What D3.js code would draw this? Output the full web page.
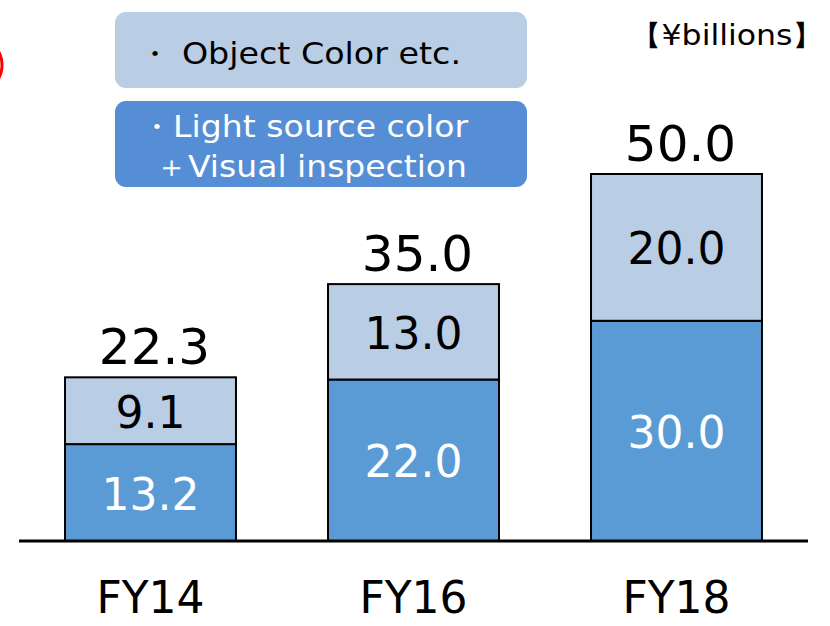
<!DOCTYPE html>
<meta charset="utf-8">
<head>
    <title>Stacked bars</title>
    <script src="https://d3js.org/d3.v7.min.js"></script>
    <style>
        body { margin: 0; background: #fff; }
        text { font-family: "DejaVu Sans", Verdana, sans-serif; }
    </style>
</head>
<body>
<script>
    // data
    var years = ["FY14", "FY16", "FY18"];
    var lightSource = [13.2, 22.0, 30.0];   // light source color + visual inspection
    var objectColor = [9.1, 13.0, 20.0];    // object color etc.
    var totals = [22.3, 35.0, 50.0];
    var legendLabels = ["\u30FB Object Color etc.", "\u30FBLight source color", "\uFF0BVisual inspection"];
    var unitLabel = "\u3010\u00A5billions\u3011";

    var width = 830, height = 626;
    var lightCol = "#b9cde5", darkCol = "#5b9bd5", legendDark = "#558ed5";

    var svg = d3.select("body").append("svg")
        .attr("width", width)
        .attr("height", height);

    var x = d3.scaleBand()
        .domain(years)
        .range([19, 808])
        .paddingInner(0.35)
        .paddingOuter(0.175);

    var y = d3.scaleLinear()
        .domain([0, 50])
        .range([541, 174]);

    // stack the two series
    var rows = years.map(function (d, i) {
        return { year: d, light: lightSource[i], obj: objectColor[i], total: totals[i] };
    });
    var series = d3.stack().keys(["light", "obj"])(rows);

    var groups = svg.append("g").selectAll("g")
        .data(series)
        .enter().append("g")
        .attr("fill", function (d) { return d.key == "light" ? darkCol : lightCol; });

    groups.selectAll("rect")
        .data(function (d) { return d; })
        .enter().append("rect")
        .attr("x", function (d) { return x(d.data.year); })
        .attr("y", function (d) { return y(d[1]); })
        .attr("width", x.bandwidth())
        .attr("height", function (d) { return y(d[0]) - y(d[1]); })
        .attr("stroke", "#000")
        .attr("stroke-width", 2);

    // segment labels
    groups.selectAll("text")
        .data(function (d) { return d.map(function (v) { v.key = d.key; return v; }); })
        .enter().append("text")
        .attr("x", function (d) { return x(d.data.year) + x.bandwidth() / 2; })
        .attr("y", function (d) { return (y(d[0]) + y(d[1])) / 2 + 17; })
        .attr("text-anchor", "middle")
        .style("font-size", "44px")
        .attr("fill", function (d) { return d.key == "light" ? "#fff" : "#000"; })
        .text(function (d) { return d3.format(".1f")(d[1] - d[0]); });

    // totals
    svg.append("g").selectAll("text")
        .data(rows)
        .enter().append("text")
        .attr("x", function (d) { return x(d.year) + x.bandwidth() / 2 + 4; })
        .attr("y", function (d) { return y(d.total) - 13; })
        .attr("text-anchor", "middle")
        .style("font-size", "50px")
        .text(function (d) { return d3.format(".1f")(d.total); });

    // baseline
    svg.append("line")
        .attr("x1", 19).attr("x2", 808)
        .attr("y1", y(0)).attr("y2", y(0))
        .attr("stroke", "#000")
        .attr("stroke-width", 3);

    // category labels
    svg.append("g").selectAll("text")
        .data(years)
        .enter().append("text")
        .attr("x", function (d) { return x(d) + x.bandwidth() / 2; })
        .attr("y", 613)
        .attr("text-anchor", "middle")
        .style("font-size", "44px")
        .text(function (d) { return d; });

    // legend boxes
    svg.append("rect")
        .attr("x", 115).attr("y", 12).attr("width", 412).attr("height", 76)
        .attr("rx", 11).attr("fill", lightCol);
    svg.append("rect")
        .attr("x", 115).attr("y", 101).attr("width", 412).attr("height", 86)
        .attr("rx", 11).attr("fill", legendDark);

    svg.append("text")
        .attr("x", 138).attr("y", 64)
        .attr("textLength", 323).attr("lengthAdjust", "spacingAndGlyphs")
        .style("font-size", "30px")
        .text(legendLabels[0]);
    svg.append("text")
        .attr("x", 140).attr("y", 137)
        .attr("textLength", 328).attr("lengthAdjust", "spacingAndGlyphs")
        .style("font-size", "30px").attr("fill", "#fff")
        .text(legendLabels[1]);
    svg.append("text")
        .attr("x", 155).attr("y", 177)
        .attr("textLength", 312).attr("lengthAdjust", "spacingAndGlyphs")
        .style("font-size", "30px").attr("fill", "#fff")
        .text(legendLabels[2]);

    // unit
    svg.append("text")
        .attr("x", 630).attr("y", 45)
        .attr("textLength", 194).attr("lengthAdjust", "spacingAndGlyphs")
        .style("font-size", "28px")
        .text(unitLabel);

    // cropped red ring at left edge
    svg.append("ellipse")
        .attr("cx", -22).attr("cy", 65).attr("rx", 24).attr("ry", 26)
        .attr("fill", "none").attr("stroke", "#ff0000").attr("stroke-width", 3);
</script>
</body>
</html>
